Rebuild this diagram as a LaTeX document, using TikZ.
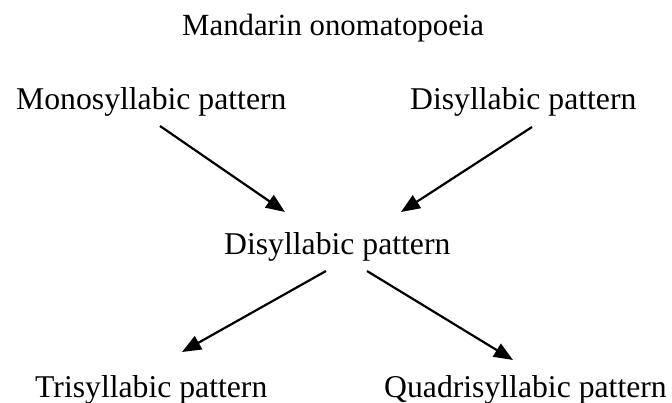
\documentclass[tikz,border=0pt]{standalone}
\usepackage{fontspec}
\setmainfont{Liberation Serif}
\usetikzlibrary{arrows.meta,calc}
\begin{document}
\begin{tikzpicture}[x=1pt,y=-1pt,
 lbl/.style={inner sep=0pt, anchor=base west, font=\fontsize{31.7}{36}\selectfont},
 arr/.style={line width=2.2pt, -{Triangle[length=19pt,width=15pt]}}]
\useasboundingbox (0,0) rectangle (672,403);
\node[lbl, font=\fontsize{30.8}{36}\selectfont] (title) at (182,36) {Mandarin onomatopoeia};
\node[lbl] (mono) at (16,110) {Monosyllabic pattern};
\node[lbl] (di) at (410,110) {Disyllabic pattern};
\node[lbl] (mid) at (224,255) {Disyllabic pattern};
\node[lbl] (tri) at (35,397) {Trisyllabic pattern};
\node[lbl] (quad) at (384,397) {Quadrisyllabic pattern};
\coordinate (a1) at ($(mono.base west)+(144,16)$);
\coordinate (a2) at ($(mid.base west)+(61,-43)$);
\coordinate (b1) at ($(di.base west)+(122,17)$);
\coordinate (b2) at ($(mid.base west)+(177,-43)$);
\coordinate (c1) at ($(mid.base west)+(102,16)$);
\coordinate (c2) at ($(tri.base west)+(147,-45)$);
\coordinate (d1) at ($(mid.base west)+(143,16)$);
\coordinate (d2) at ($(quad.base west)+(129,-37)$);
\draw[arr] (a1) -- (a2);
\draw[arr] (b1) -- (b2);
\draw[arr] (c1) -- (c2);
\draw[arr] (d1) -- (d2);
\end{tikzpicture}
\end{document}
